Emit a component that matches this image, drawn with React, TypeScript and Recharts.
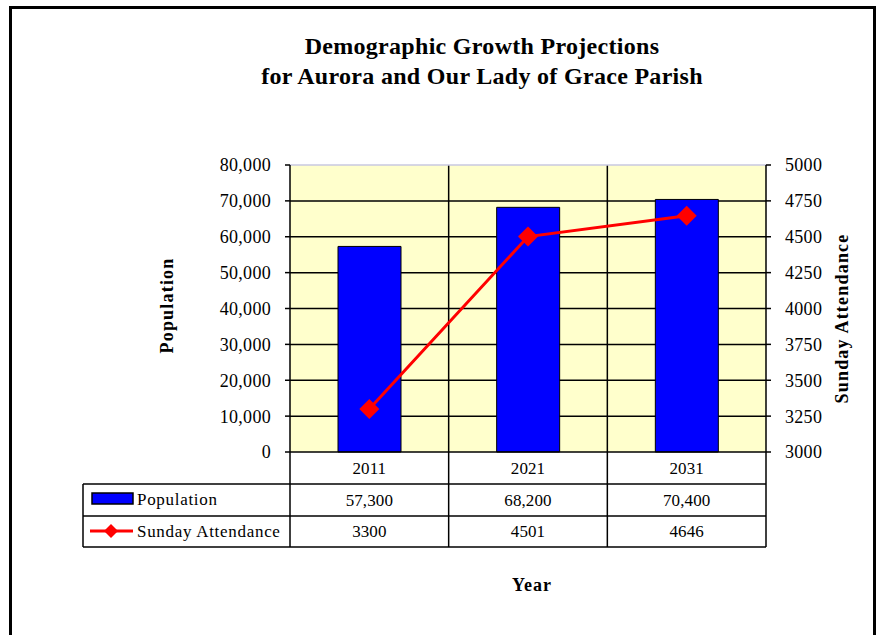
import React from "react";
import {
  ComposedChart,
  Bar,
  Line,
  XAxis,
  YAxis,
  CartesianGrid,
  ReferenceLine,
} from "recharts";

const years = ["2011", "2021", "2031"];
const population = [57300, 68200, 70400];
const attendance = [3300, 4501, 4646];
const populationTicks = [0, 10000, 20000, 30000, 40000, 50000, 60000, 70000, 80000];
const attendanceTicks = [3000, 3250, 3500, 3750, 4000, 4250, 4500, 4750, 5000];

const data = years.map((year, i) => ({
  year,
  population: population[i],
  attendance: attendance[i],
}));

const FONT = "'Liberation Serif', 'Times New Roman', serif";
const W = 883;
const H = 635;
const AXIS_W = 80;
const MARGIN = { top: 165, left: 210, right: 37, bottom: 0 };
const PLOT_W = W - MARGIN.left - MARGIN.right - AXIS_W * 2;
const BAND = PLOT_W / years.length;
const LEGEND_COL = 207;
const ROW = [32, 64, 95];

const fmt = (v: number) => v.toLocaleString("en-US");

const Diamond = (props: any) => {
  const { cx, cy } = props;
  if (cx == null || cy == null) return null;
  const r = 10;
  return (
    <path
      d={`M${cx} ${cy - r} L${cx + r} ${cy} L${cx} ${cy + r} L${cx - r} ${cy} Z`}
      fill="#FF0000"
    />
  );
};

const cellText = { fontFamily: FONT, fontSize: 17, fill: "#000", letterSpacing: 0.1 };
const legendText = { fontFamily: FONT, fontSize: 17, fill: "#000", letterSpacing: 0.7 };

const TableTick = (props: any) => {
  const { x, y, payload } = props;
  const i = payload.index ?? props.index ?? 0;
  const left = x - BAND / 2;
  const right = x + BAND / 2;
  const tableRight = left + BAND * (years.length - i);
  return (
    <g>
      <text x={x} y={y + 16} textAnchor="middle" dominantBaseline="central" {...cellText}>
        {payload.value}
      </text>
      <text x={x} y={y + 48} textAnchor="middle" dominantBaseline="central" {...cellText}>
        {fmt(population[i])}
      </text>
      <text x={x} y={y + 79} textAnchor="middle" dominantBaseline="central" {...cellText}>
        {attendance[i]}
      </text>
      <line x1={right} x2={right} y1={y} y2={y + ROW[2]} stroke="#000" strokeWidth={1.5} />
      {i === 0 && (
        <g>
          <line x1={left} x2={left} y1={y} y2={y + ROW[2]} stroke="#000" strokeWidth={1.5} />
          <line x1={left - LEGEND_COL} x2={left - LEGEND_COL} y1={y + ROW[0]} y2={y + ROW[2]} stroke="#000" strokeWidth={1.5} />
          {ROW.map((r) => (
            <line key={r} x1={left - LEGEND_COL} x2={tableRight} y1={y + r} y2={y + r} stroke="#000" strokeWidth={1.5} />
          ))}
          <rect x={left - 198} y={y + 41} width={41} height={11} fill="#0000FF" stroke="#000" strokeWidth={1.5} />
          <text x={left - 153} y={y + 47} dominantBaseline="central" {...legendText}>
            Population
          </text>
          <line x1={left - 200} x2={left - 157} y1={y + 79} y2={y + 79} stroke="#FF0000" strokeWidth={3} />
          <path
            d={`M${left - 179} ${y + 72} L${left - 172} ${y + 79} L${left - 179} ${y + 86} L${left - 186} ${y + 79} Z`}
            fill="#FF0000"
          />
          <text x={left - 153} y={y + 79} dominantBaseline="central" {...legendText}>
            Sunday Attendance
          </text>
        </g>
      )}
    </g>
  );
};

const axisTitle = (text: string, dxFrom: (vb: any) => number, cyShift: number) => (p: any) => {
  const vb = p.viewBox;
  const x = dxFrom(vb);
  const y = vb.y + vb.height / 2 + cyShift;
  return (
    <text
      x={x}
      y={y}
      transform={`rotate(-90 ${x} ${y})`}
      textAnchor="middle"
      dominantBaseline="central"
      fontFamily={FONT}
      fontSize={18}
      fontWeight="bold"
      letterSpacing={1.2}
      fill="#000"
    >
      {text}
    </text>
  );
};

const tickStyle = { fill: "#000", fontSize: 18, fontFamily: FONT, letterSpacing: 0.3 };

export default function App() {
  return (
    <div style={{ position: "absolute", left: 0, top: 0, width: W, height: H, background: "#fff", overflow: "hidden" }}>
      <div
        style={{
          position: "absolute",
          left: 9,
          top: 6,
          width: 867,
          height: 700,
          border: "3px solid #000",
          boxSizing: "border-box",
        }}
      />
      <div
        style={{
          position: "absolute",
          left: 182,
          top: 31,
          width: 600,
          textAlign: "center",
          fontFamily: FONT,
          fontWeight: "bold",
          fontSize: 24,
          lineHeight: "30px",
          letterSpacing: 0.3,
          color: "#000",
        }}
      >
        <div>Demographic Growth Projections</div>
        <div>for Aurora and Our Lady of Grace Parish</div>
      </div>
      <div style={{ position: "absolute", left: 0, top: 0 }}>
        <ComposedChart width={W} height={H} data={data} margin={MARGIN}>
          <CartesianGrid
            fill="#FFFFCC"
            fillOpacity={1}
            stroke="#000"
            strokeWidth={1.5}
            strokeOpacity={1}
            horizontalCoordinatesGenerator={({ offset }: any) =>
              populationTicks
                .slice(1, -1)
                .map((v) => offset.top + offset.height * (1 - v / populationTicks[populationTicks.length - 1]))
            }
            verticalCoordinatesGenerator={({ offset }: any) =>
              years.slice(1).map((_, i) => offset.left + ((i + 1) * offset.width) / years.length)
            }
          />
          <XAxis
            dataKey="year"
            height={183}
            tickSize={0}
            tickMargin={0}
            interval={0}
            axisLine={{ stroke: "#000", strokeWidth: 1.5 }}
            tick={<TableTick />}
            label={{
              content: () => (
                <text
                  x={532}
                  y={585}
                  textAnchor="middle"
                  dominantBaseline="central"
                  fontFamily={FONT}
                  fontSize={18}
                  fontWeight="bold"
                  letterSpacing={1}
                  fill="#000"
                >
                  Year
                </text>
              ),
            }}
          />
          <YAxis
            width={AXIS_W}
            domain={[0, 80000]}
            ticks={populationTicks}
            tickFormatter={fmt}
            tickSize={5}
            tickMargin={14}
            interval={0}
            axisLine={{ stroke: "#000", strokeWidth: 1.5 }}
            tickLine={{ stroke: "#000", strokeWidth: 1.5 }}
            tick={tickStyle}
            label={{ content: axisTitle("Population", (vb) => vb.x + vb.width - 123, -3) }}
          />
          <YAxis
            yAxisId="att"
            orientation="right"
            width={AXIS_W}
            domain={[3000, 5000]}
            ticks={attendanceTicks}
            tickSize={5}
            tickMargin={14}
            interval={0}
            axisLine={{ stroke: "#000", strokeWidth: 1.5 }}
            tickLine={{ stroke: "#000", strokeWidth: 1.5 }}
            tick={tickStyle}
            label={{ content: axisTitle("Sunday Attendance", (vb) => vb.x + 76, 10) }}
          />
          <ReferenceLine y={80000} stroke="#c8c8e0" strokeWidth={1.5} />
          <Bar
            dataKey="population"
            fill="#0000FF"
            stroke="#000"
            strokeWidth={1}
            barSize={63}
            isAnimationActive={false}
          />
          <Line
            yAxisId="att"
            dataKey="attendance"
            stroke="#FF0000"
            strokeWidth={3}
            dot={<Diamond />}
            activeDot={false}
            isAnimationActive={false}
          />
        </ComposedChart>
      </div>
    </div>
  );
}
